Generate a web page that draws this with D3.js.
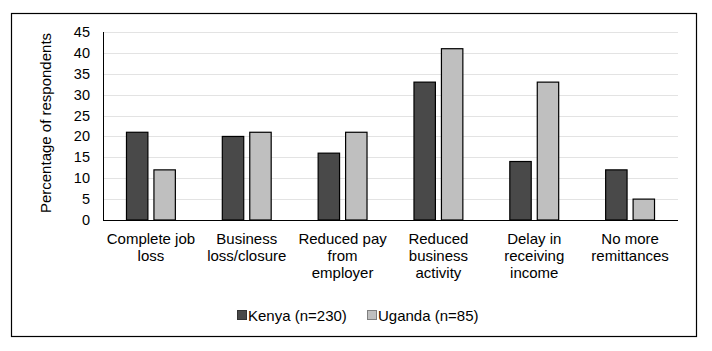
<!DOCTYPE html>
<html>
<head>
<meta charset="utf-8">
<script src="https://cdn.jsdelivr.net/npm/d3@7"></script>
<style>
  body { margin: 0; background: #fff; }
  svg { display: block; font-family: 'Liberation Sans', Arial, sans-serif; }
</style>
</head>
<body>
<div id="chart"></div>
<script>
// Impact of COVID-19 on income, Kenya vs Uganda

const categories = [
    ['Complete job', 'loss'],
    ['Business', 'loss/closure'],
    ['Reduced pay', 'from', 'employer'],
    ['Reduced', 'business', 'activity'],
    ['Delay in', 'receiving', 'income'],
    ['No more', 'remittances']
];
const seriesNames = ['Kenya (n=230)', 'Uganda (n=85)'];
const kenyaValues = [21, 20, 16, 33, 14, 12];
const ugandaValues = [12, 21, 21, 41, 33, 5];
const yTicks = [0, 5, 10, 15, 20, 25, 30, 35, 40, 45];

const colors = ['#494949', '#bfbfbf'];
const width = 712, height = 351;
const margin = { left: 103, right: 34, top: 32, bottom: 131 };
const innerW = width - margin.left - margin.right;
const innerH = height - margin.top - margin.bottom;

const svg = d3.select('#chart').append('svg')
    .attr('width', width)
    .attr('height', height);

// outer frame
svg.append('rect')
    .attr('x', 11.5).attr('y', 13.5)
    .attr('width', 685).attr('height', 323)
    .attr('fill', 'none')
    .attr('stroke', '#000')
    .attr('stroke-width', 1.2);

const g = svg.append('g')
    .attr('transform', `translate(${margin.left},${margin.top})`);

const catIdx = categories.map((c, i) => i);
const x0 = d3.scaleBand()
    .domain(catIdx)
    .range([0, innerW])
    .paddingInner(0.49)
    .paddingOuter(0.245);

const x1 = d3.scaleBand()
    .domain([0, 1])
    .range([0, x0.bandwidth()])
    .paddingInner(0.22);

const y = d3.scaleLinear()
    .domain([0, 45])
    .range([innerH, 0]);

// gridlines
g.append('g')
    .selectAll('line')
    .data(yTicks.filter(t => t > 0))
    .join('line')
    .attr('x1', 0)
    .attr('x2', innerW)
    .attr('y1', d => Math.round(y(d)) + 0.5)
    .attr('y2', d => Math.round(y(d)) + 0.5)
    .attr('stroke', '#e3e3e3')
    .attr('stroke-width', 1);

// y axis tick labels
g.append('g')
    .selectAll('text')
    .data(yTicks)
    .join('text')
    .attr('x', -13)
    .attr('y', d => y(d) + 5)
    .attr('text-anchor', 'end')
    .style('font-size', '14.5px')
    .attr('fill', '#000')
    .text(d => d);

// bars
const seriesData = [kenyaValues, ugandaValues];
const groups = g.selectAll('.group')
    .data(catIdx)
    .join('g')
    .attr('class', 'group')
    .attr('transform', d => `translate(${x0(d)},0)`);

groups.selectAll('rect')
    .data(i => seriesData.map((vals, s) => ({ s, v: vals[i] })))
    .join('rect')
    .attr('x', d => x1(d.s))
    .attr('y', d => y(d.v))
    .attr('width', x1.bandwidth())
    .attr('height', d => innerH - y(d.v))
    .attr('fill', d => colors[d.s])
    .attr('stroke', '#000')
    .attr('stroke-width', 1.2);

// axis lines
g.append('line')
    .attr('x1', 0.5).attr('x2', 0.5)
    .attr('y1', 0).attr('y2', innerH)
    .attr('stroke', '#000');
g.append('line')
    .attr('x1', 0).attr('x2', innerW)
    .attr('y1', innerH + 0.5).attr('y2', innerH + 0.5)
    .attr('stroke', '#000');

// category labels
const labels = g.append('g')
    .selectAll('text')
    .data(catIdx)
    .join('text')
    .attr('text-anchor', 'middle')
    .attr('fill', '#000')
    .style('font-size', '15px')
    .attr('transform', d => `translate(${x0(d) + x0.bandwidth() / 2},${innerH + 24})`);

labels.selectAll('tspan')
    .data(d => categories[d])
    .join('tspan')
    .attr('x', 0)
    .attr('y', (d, i) => i * 17)
    .text(d => d);

// y axis title
svg.append('text')
    .attr('transform', 'rotate(-90)')
    .attr('x', -123)
    .attr('y', 51)
    .attr('text-anchor', 'middle')
    .style('font-size', '15px')
    .attr('fill', '#000')
    .text('Percentage of respondents');

// legend
const legendX = [237, 367];
const legend = svg.append('g');
seriesNames.forEach((name, i) => {
    legend.append('rect')
        .attr('x', legendX[i] + 0.5)
        .attr('y', 310.5)
        .attr('width', 9)
        .attr('height', 9)
        .attr('fill', colors[i])
        .attr('stroke', i === 0 ? '#333' : '#7f7f7f')
        .attr('stroke-width', 1);
    legend.append('text')
        .attr('x', legendX[i] + 11)
        .attr('y', 320.5)
        .style('font-size', '15px')
        .attr('fill', '#000')
        .text(name);
});
</script>
</body>
</html>
